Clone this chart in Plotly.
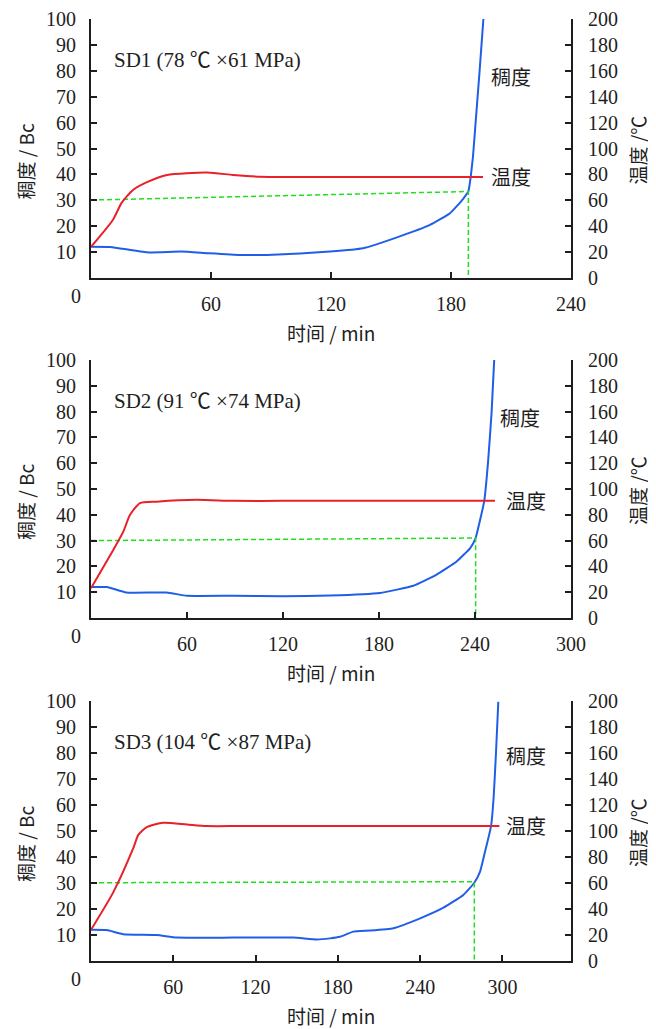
import plotly.graph_objects as go

# ---------------- data ----------------
panel_labels = ["SD1 (78 ℃ ×61 MPa)", "SD2 (91 ℃ ×74 MPa)", "SD3 (104 ℃ ×87 MPa)"]
x_ranges = [240, 300, 350]
x_ticks = [[60, 120, 180, 240], [60, 120, 180, 240, 300], [60, 120, 180, 240, 300]]
left_ticks = [10, 20, 30, 40, 50, 60, 70, 80, 90, 100]
right_ticks = [0, 20, 40, 60, 80, 100, 120, 140, 160, 180, 200]

# SD1
t1_temp = [0, 11, 15.3, 21, 28, 38, 58, 71, 84.5, 100, 196]
v1_temp = [24, 45, 58, 68, 74, 79.6, 81.4, 79.6, 78.2, 78, 78]
t1_cons = [0, 9.7, 28, 45, 58, 74.5, 88, 104.5, 119.5, 136, 153, 169.5, 179.5, 186, 188.7, 190, 191, 192.3, 194.3, 196.2]
v1_cons = [12.1, 12.0, 9.9, 10.2, 9.6, 8.9, 8.9, 9.5, 10.2, 11.5, 15.7, 20.5, 25, 30.5, 33.5, 40, 47, 60, 80, 100]
t1_mark = [0, 188.7, 188.7]
v1_mark = [30.1, 33.4, 0]

# SD2
t2_temp = [0, 14, 20.2, 24.4, 30.6, 41, 66, 89, 120, 252.5]
v2_temp = [23, 53, 67, 80, 89, 90.2, 91.6, 90.8, 90.8, 90.8]
t2_cons = [0, 10, 22, 47.3, 60, 89, 120, 149.4, 180.6, 201.5, 216, 228.5, 237, 240.4, 243, 245.8, 248.1, 250.4, 252]
v2_cons = [12, 12, 9.9, 9.9, 8.6, 8.6, 8.4, 8.7, 9.7, 12.5, 16.8, 21.9, 27.1, 31, 37.5, 45.4, 60, 80, 100]
t2_mark = [0, 240.4, 240.4]
v2_mark = [30.0, 31.0, 0]

# SD3
t3_temp = [0, 16.3, 30.9, 34.5, 40.6, 52.7, 70, 84.4, 110, 297.8]
v3_temp = [24, 53, 87, 97, 103, 106.4, 105, 103.8, 103.8, 103.8]
t3_cons = [0, 11.4, 23.6, 48, 62.5, 104, 147.5, 164.6, 174.3, 181.5, 191.3, 203.5, 220.5, 240, 257, 271.5, 279.5, 283.7, 287.3, 291.7, 293.6, 295.3, 297]
v3_cons = [12, 11.9, 10.3, 10, 9.0, 9.0, 9.0, 8.3, 8.7, 9.3, 11.3, 11.7, 12.6, 16.4, 20.5, 25.4, 30.1, 34.4, 42, 51.9, 63, 80, 99.7]
t3_mark = [0, 279.5, 279.5]
v3_mark = [30.1, 30.5, 0]

temps_t = [t1_temp, t2_temp, t3_temp]
temps_v = [v1_temp, v2_temp, v3_temp]
cons_t = [t1_cons, t2_cons, t3_cons]
cons_v = [v1_cons, v2_cons, v3_cons]
mark_t = [t1_mark, t2_mark, t3_mark]
mark_v = [v1_mark, v2_mark, v3_mark]

# ---------------- layout geometry ----------------
OFF = 8  # default page body margin
W, H = 656 - OFF, 1029 - OFF
L, R, T, B = 91, 571, 19, 961  # target pixel positions in the window
panels_px = [(19, 278), (360, 618), (701, 961)]  # top, bottom pixel rows


def px2x(px):
    return (px - L) / (R - L)


def px2y(py):
    return (B - py) / (B - T)


FONT = "Liberation Serif, Times New Roman, Noto Sans CJK SC, serif"
CJK = "Noto Sans CJK SC, Liberation Serif, serif"
INK = "#1e1e1e"
RED = "#e8202a"
BLUE = "#1f5fe8"
GREEN = "#22dd22"
FS = 20

fig = go.Figure()
layout = dict(
    width=W, height=H,
    margin=dict(l=L - OFF, r=656 - R, t=T - OFF, b=1029 - B, autoexpand=False),
    plot_bgcolor="white", paper_bgcolor="white",
    showlegend=False,
    font=dict(family=FONT, size=FS, color=INK),
)
annotations = []

for i in range(3):
    n = i + 1
    xa = "x" if n == 1 else f"x{n}"
    ya_l = "y" if n == 1 else f"y{n}"
    ya_r = f"y{n + 3}"
    top, bot = panels_px[i]
    dom = [px2y(bot), px2y(top)]

    axis_common = dict(showline=True, linecolor=INK, linewidth=2, ticks="inside",
                       ticklen=6, tickwidth=1.5, tickcolor=INK, showgrid=False,
                       zeroline=False, tickfont=dict(family=FONT, size=FS, color=INK))

    layout[f"xaxis{'' if n == 1 else n}"] = dict(
        axis_common, domain=[0, 1], anchor=ya_l, range=[0, x_ranges[i]],
        tickvals=x_ticks[i], ticklabelstandoff=7, fixedrange=True)
    layout[f"yaxis{'' if n == 1 else n}"] = dict(
        axis_common, domain=dom, anchor=xa, range=[0, 100],
        tickvals=left_ticks, ticklabelstandoff=9)
    layout[f"yaxis{n + 3}"] = dict(
        axis_common, domain=dom, anchor=xa, overlaying=ya_l, side="right",
        range=[0, 200], tickvals=right_ticks, ticklabelstandoff=11)

    # consistency (left axis)
    fig.add_trace(go.Scatter(x=cons_t[i], y=cons_v[i], mode="lines", xaxis=xa, yaxis=ya_l,
                             line=dict(color=BLUE, width=2, shape="spline", smoothing=0.4)))
    # marker lines
    fig.add_trace(go.Scatter(x=mark_t[i], y=mark_v[i], mode="lines", xaxis=xa, yaxis=ya_l,
                             line=dict(color=GREEN, width=1.5, dash="5px,3px")))
    # temperature (right axis)
    fig.add_trace(go.Scatter(x=temps_t[i], y=temps_v[i], mode="lines", xaxis=xa, yaxis=ya_r,
                             line=dict(color=RED, width=2, shape="spline", smoothing=0.6)))

    # panel label
    annotations.append(dict(xref="paper", yref="paper", x=px2x(112), y=px2y(top + 41),
                            text=panel_labels[i], showarrow=False, xanchor="left", yanchor="middle",
                            font=dict(family=FONT, size=21, color=INK)))
    # origin "0"
    annotations.append(dict(xref="paper", yref="paper", x=px2x(76), y=px2y(bot + 18),
                            text="0", showarrow=False, xanchor="center", yanchor="middle",
                            font=dict(family=FONT, size=FS, color=INK)))
    # axis titles
    annotations.append(dict(xref="paper", yref="paper", x=px2x(331), y=px2y(bot + 54),
                            text="时间 / min", showarrow=False, xanchor="center", yanchor="middle",
                            font=dict(family=CJK, size=19, color=INK)))
    annotations.append(dict(xref="paper", yref="paper", x=px2x(25), y=px2y((top + bot) / 2 + 13),
                            text="稠度 / Bc", showarrow=False, textangle=-90, xanchor="center",
                            yanchor="middle", font=dict(family=CJK, size=19, color=INK)))
    annotations.append(dict(xref="paper", yref="paper", x=px2x(637), y=px2y((top + bot) / 2 + 2),
                            text="温度 /℃", showarrow=False, textangle=-90, xanchor="center",
                            yanchor="middle", font=dict(family=CJK, size=19, color=INK)))

# curve labels
curve_label_pos = [((511, 77), (511, 177)), ((520, 417), (526, 500)), ((526, 755), (526, 825))]
for (cx, cy), (tx, ty) in curve_label_pos:
    annotations.append(dict(xref="paper", yref="paper", x=px2x(cx), y=px2y(cy), text="稠度",
                            showarrow=False, xanchor="center", yanchor="middle",
                            font=dict(family=CJK, size=20, color=INK)))
    annotations.append(dict(xref="paper", yref="paper", x=px2x(tx), y=px2y(ty), text="温度",
                            showarrow=False, xanchor="center", yanchor="middle",
                            font=dict(family=CJK, size=20, color=INK)))

layout["annotations"] = annotations
fig.update_layout(**layout)
fig.write_html("out.html")
